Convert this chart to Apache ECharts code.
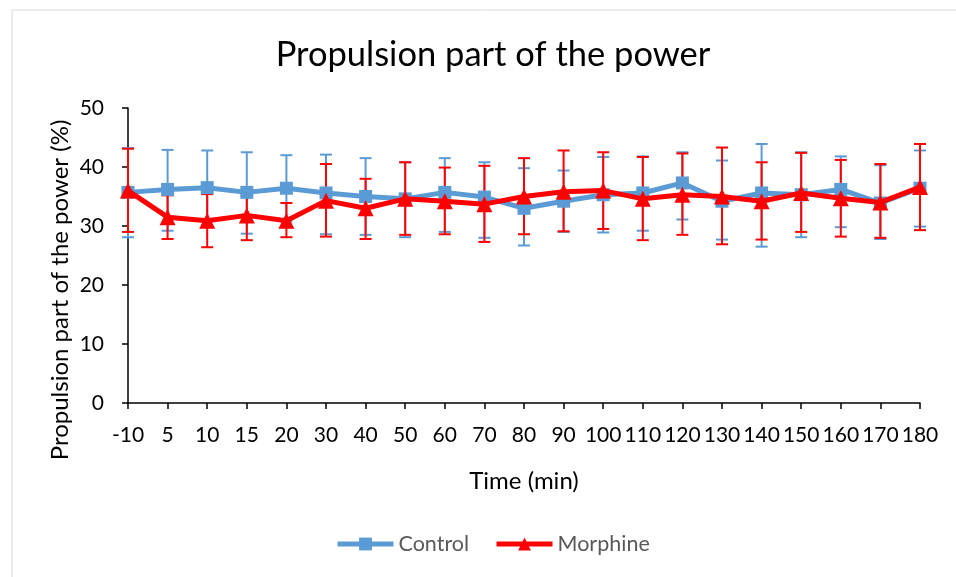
<!DOCTYPE html>
<html>
<head>
<meta charset="utf-8">
<script src="https://cdn.jsdelivr.net/npm/echarts@6/dist/echarts.min.js"></script>
<style>html,body{margin:0;padding:0;background:#fff;}#c{width:956px;height:577px;}</style>
</head>
<body>
<div id="c"></div>
<script>
var categories = ['-10','5','10','15','20','30','40','50','60','70','80','90','100','110','120','130','140','150','160','170','180'];
var control = [35.7,36.2,36.5,35.7,36.4,35.6,35.0,34.6,35.7,34.9,33.0,34.2,35.3,35.6,37.3,34.2,35.6,35.3,36.2,33.9,36.4];
var controlHigh = [43.2,42.9,42.8,42.5,42.0,42.1,41.5,40.8,41.5,40.8,39.8,39.4,41.7,41.8,42.5,41.1,43.9,42.5,41.8,40.3,42.8];
var controlLow = [28.1,29.2,30.2,28.7,30.8,28.6,28.5,28.1,29.0,28.0,26.7,29.0,28.9,29.2,31.1,27.7,26.5,28.1,29.8,27.8,29.9];
var morphine = [36.0,31.5,30.9,31.8,30.9,34.3,33.0,34.6,34.2,33.7,35.0,35.8,36.0,34.6,35.3,35.0,34.2,35.6,34.7,34.0,36.6];
var morphineHigh = [43.1,35.2,35.4,36.0,33.9,40.5,38.0,40.8,39.9,40.2,41.5,42.8,42.5,41.7,42.3,43.3,40.8,42.4,41.2,40.5,43.9];
var morphineLow = [29.0,27.8,26.4,27.6,28.1,28.2,27.8,28.5,28.6,27.3,28.6,29.1,29.5,27.6,28.5,26.9,27.7,29.0,28.2,28.0,29.3];
var yTicks = [0,10,20,30,40,50];

var FONT = 'Lato';
var BLUE = '#5b9bd5', RED = '#ff0000';

function errData(low, high) {
  return categories.map(function (c, i) { return [i, low[i], high[i]]; });
}
function errRender(color) {
  return function (params, api) {
    var x = api.value(0);
    var lo = api.coord([x, api.value(1)]);
    var hi = api.coord([x, api.value(2)]);
    var hw = 6;
    var st = { stroke: color, lineWidth: 2 };
    return {
      type: 'group',
      children: [
        { type: 'line', shape: { x1: lo[0], y1: lo[1], x2: hi[0], y2: hi[1] }, style: st },
        { type: 'line', shape: { x1: lo[0] - hw, y1: lo[1], x2: lo[0] + hw, y2: lo[1] }, style: st },
        { type: 'line', shape: { x1: hi[0] - hw, y1: hi[1], x2: hi[0] + hw, y2: hi[1] }, style: st }
      ]
    };
  };
}

var chart = echarts.init(document.getElementById('c'), null, { renderer: 'canvas' });
chart.setOption({
  animation: false,
  backgroundColor: '#fff',
  textStyle: { fontFamily: FONT },
  title: {
    text: 'Propulsion part of the power',
    left: 488, top: 32, textAlign: 'center',
    textStyle: { fontFamily: FONT, fontSize: 34.5, fontWeight: 'normal', color: '#000' }
  },
  graphic: [
    { type: 'rect', shape: { x: 12, y: 10, width: 1000, height: 1000 }, style: { fill: 'none', stroke: '#d9d9d9', lineWidth: 1 }, z: -1 },
    { type: 'text', x: 60, y: 290, rotation: Math.PI / 2,
      style: { text: 'Propulsion part of the power (%)', fontFamily: FONT, fontSize: 24, fill: '#000', align: 'center', verticalAlign: 'middle' } }
  ],
  legend: {
    top: 533, left: 335, padding: 0, itemWidth: 56, itemHeight: 16, itemGap: 25,
    textStyle: { fontFamily: FONT, fontSize: 21.5, color: '#595959' },
    lineStyle: { width: 5 },
    data: ['Control', 'Morphine']
  },
  grid: { left: 128, right: 36, top: 108, bottom: 174, containLabel: false },
  xAxis: {
    type: 'category', data: categories, boundaryGap: false,
    name: 'Time (min)', nameLocation: 'middle', nameGap: 66,
    nameTextStyle: { fontFamily: FONT, fontSize: 24, color: '#000' },
    axisLine: { lineStyle: { color: '#000', width: 1.5 } },
    axisTick: { show: true, length: 6, alignWithLabel: true, lineStyle: { color: '#000', width: 1.5 } },
    axisLabel: { fontFamily: FONT, fontSize: 21, color: '#000', margin: 22, interval: 0 },
    splitLine: { show: false }
  },
  yAxis: {
    type: 'value', min: 0, max: 50, interval: 10,
    axisLine: { show: true, lineStyle: { color: '#000', width: 1.5 } },
    axisTick: { show: true, length: 6, lineStyle: { color: '#000', width: 1.5 } },
    axisLabel: { fontFamily: FONT, fontSize: 21, color: '#000', margin: 24,
      formatter: function (v) { return yTicks.indexOf(v) >= 0 ? String(v) : ''; } },
    splitLine: { show: false }
  },
  series: [
    { name: 'ControlErr', type: 'custom', renderItem: errRender(BLUE), data: errData(controlLow, controlHigh), z: 1, silent: true },
    { name: 'MorphineErr', type: 'custom', renderItem: errRender(RED), data: errData(morphineLow, morphineHigh), z: 2, silent: true },
    { name: 'Control', type: 'line', data: control, symbol: 'rect', symbolSize: 13,
      itemStyle: { color: BLUE }, lineStyle: { color: BLUE, width: 5 }, z: 3 },
    { name: 'Morphine', type: 'line', data: morphine, symbol: 'triangle', symbolSize: 16,
      itemStyle: { color: RED }, lineStyle: { color: RED, width: 5 }, z: 4 }
  ]
});
</script>
</body>
</html>
